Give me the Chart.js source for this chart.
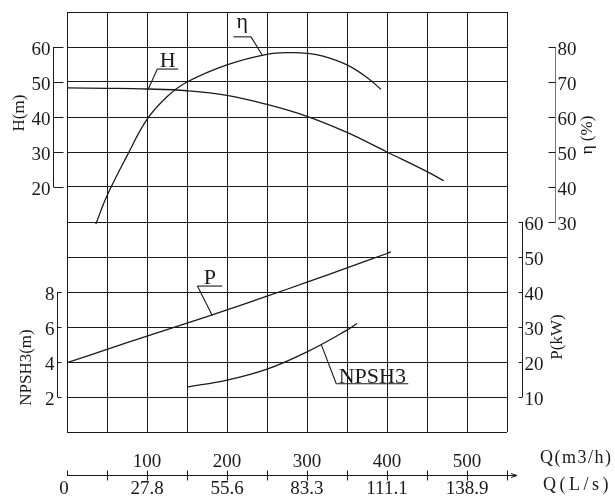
<!DOCTYPE html>
<html><head><meta charset="utf-8">
<script src="https://cdn.jsdelivr.net/npm/chart.js@4.4.1/dist/chart.umd.min.js"></script>
<style>html,body{margin:0;padding:0;background:#fff}</style>
</head><body>
<canvas id="c" width="615" height="496"></canvas>
<script>
// ---- data ----
const flowH = [0,50,100,150,200,250,300,350,400,450,471];
const head  = [48.3,48.2,48.0,47.5,46.2,43.6,40.2,35.6,30.0,24.4,21.8];
const flowEff = [36,50,75,100,125,150,200,250,280,300,320,350,375,392.5];
const eff     = [29.4,37.5,48.9,59.3,65.8,70.0,74.9,77.9,78.4,78.2,77.4,74.9,71.3,67.9];
const flowP = [0,50,100,150,200,250,300,350,400,405];
const power = [19.8,23.6,27.4,31.1,34.9,38.8,42.8,46.9,51.0,51.5];
const flowN = [150,200,250,300,350,362.5];
const npsh  = [2.57,2.96,3.59,4.58,5.82,6.2];

const hTicks = [20,30,40,50,60];
const effTicks = [30,40,50,60,70,80];
const pTicks = [10,20,30,40,50,60];
const npshTicks = [2,4,6,8];
const qTicks = [100,200,300,400,500];          // m3/h
const lsTicks = ['0','27.8','55.6','83.3','111.1','138.9']; // L/s

const SERIF = '"Liberation Serif","DejaVu Serif",serif';
const INK = '#1a1a1a';

function pts(xs, ys){ return xs.map((x,i)=>({x:x,y:ys[i]})); }
function ds(label, xs, ys, axis){
  return {label:label, data:pts(xs,ys), yAxisID:axis, borderColor:INK, borderWidth:1.3,
          pointRadius:0, fill:false, tension:0.4};
}

const notes = [
  {text:'H',     q:101.6, axis:'yH', v:48.0, from:112.9, to:139.1, g:10.37, end:'left',  base:2},
  {text:'η',     q:244,   axis:'yE', v:77.7, from:208,   to:230,   g:11.29, end:'right', base:9},
  {text:'P',     q:181.6, axis:'yP', v:33.3, from:163,   to:194,   g:4.17,  end:'left',  base:2},
  {text:'NPSH3', q:318,   axis:'yN', v:4.98, from:336.6, to:426.6, g:1.38,  end:'left',  base:1}
];

const decor = {
  id:'decor',
  afterDraw(chart){
    const c = chart.ctx, xs = chart.scales.x, gs = chart.scales.g;
    c.save();
    c.strokeStyle = INK; c.fillStyle = INK; c.lineWidth = 1;

    function bracket(scale, ticks, ax, dir, len, side, color){
      const y0 = scale.getPixelForValue(ticks[0]), y1 = scale.getPixelForValue(ticks[ticks.length-1]);
      c.strokeStyle = color || INK;
      c.beginPath(); c.moveTo(ax, y0); c.lineTo(ax, y1); c.stroke();
      c.strokeStyle = INK;
      c.font = '19px ' + SERIF; c.textBaseline = 'middle';
      c.textAlign = side < 0 ? 'right' : 'left';
      ticks.forEach(t=>{
        const y = Math.round(scale.getPixelForValue(t)) + 0.5;
        c.beginPath(); c.moveTo(ax, y); c.lineTo(ax + dir*len, y); c.stroke();
        c.fillText(String(t), side < 0 ? ax - 3 : ax + 2, y + 2.5);
      });
    }
    bracket(chart.scales.yH, hTicks, 53.5, 1, 10, -1);
    bracket(chart.scales.yN, npshTicks, 57.5, 1, 4, -1);
    bracket(chart.scales.yE, effTicks, 555.5, -1, 7, 1, '#777');
    bracket(chart.scales.yP, pTicks, 522.5, -1, 4, 1);

    function vtitle(txt, x, y){
      c.save(); c.translate(x, y); c.rotate(-Math.PI/2);
      c.font = '17px ' + SERIF; c.textAlign = 'center'; c.textBaseline = 'middle';
      c.fillText(txt, 0, 0); c.restore();
    }
    vtitle('H(m)', 20, 113);
    vtitle('NPSH3(m)', 26.5, 367.5);
    vtitle('η (%)', 588, 135);
    vtitle('P(kW)', 558, 337);

    // bottom double flow axis
    const ay = 475.5, x0 = xs.getPixelForValue(0), xEnd = xs.getPixelForValue(550);
    c.beginPath(); c.moveTo(x0, ay); c.lineTo(xEnd + 9, ay); c.stroke();
    c.beginPath(); c.moveTo(xEnd + 4, ay - 2); c.lineTo(xEnd + 10, ay); c.lineTo(xEnd + 4, ay + 2); c.stroke();
    for(let q = 0; q <= 550; q += 50){
      const x = Math.round(xs.getPixelForValue(q)) + 0.5;
      c.beginPath(); c.moveTo(x, ay - 5); c.lineTo(x, q === 0 ? ay : ay + 5); c.stroke();
    }
    c.font = '19px ' + SERIF; c.textAlign = 'center'; c.textBaseline = 'middle';
    qTicks.forEach(q=>c.fillText(String(q), xs.getPixelForValue(q), 462));
    lsTicks.forEach(s=>c.fillText(s, xs.getPixelForValue(parseFloat(s)*3.6) - (s==='0'?3:0), 489));
    c.textAlign = 'left'; c.font = '18px ' + SERIF;
    c.letterSpacing = '1.5px'; c.fillText('Q(m3/h)', 540, 458);
    c.letterSpacing = '3.5px'; c.fillText('Q(L/s)', 543, 485);
    c.letterSpacing = '0px';

    // curve labels with leader lines
    notes.forEach(n=>{
      const ly = gs.getPixelForValue(n.g);
      const lx0 = xs.getPixelForValue(n.from), lx1 = xs.getPixelForValue(n.to);
      const tx = xs.getPixelForValue(n.q), ty = chart.scales[n.axis].getPixelForValue(n.v);
      const sx = n.end === 'left' ? lx0 : lx1;
      c.lineWidth = 1.1;
      c.beginPath(); c.moveTo(lx1, ly); c.lineTo(lx0, ly); c.stroke();
      c.beginPath(); c.moveTo(sx, ly); c.lineTo(tx, ty); c.stroke();
      c.font = '22px ' + SERIF; c.textAlign = 'center'; c.textBaseline = 'alphabetic';
      c.fillText(n.text, (lx0 + lx1)/2, ly - n.base);
    });
    c.restore();
  }
};

new Chart(document.getElementById('c'), {
  type:'line',
  data:{datasets:[
    ds('H', flowH, head, 'yH'),
    ds('η', flowEff, eff, 'yE'),
    ds('P', flowP, power, 'yP'),
    ds('NPSH3', flowN, npsh, 'yN')
  ]},
  options:{
    responsive:false, animation:false, devicePixelRatio:1,
    layout:{padding:{left:67, right:108, top:12, bottom:64}},
    plugins:{legend:{display:false}, tooltip:{enabled:false}},
    scales:{
      x:{type:'linear', min:0, max:550, ticks:{display:false, stepSize:50},
         grid:{color:INK, lineWidth:1, drawTicks:false}, border:{display:false}},
      g:{type:'linear', position:'left', min:0, max:12, ticks:{display:false, stepSize:1},
         grid:{color:INK, lineWidth:1, drawTicks:false}, border:{display:false}},
      yH:{display:false, min:-50, max:70},
      yE:{display:false, min:-30, max:90},
      yP:{display:false, min:0, max:120},
      yN:{display:false, min:0, max:24}
    }
  },
  plugins:[decor]
});
</script>
</body></html>
